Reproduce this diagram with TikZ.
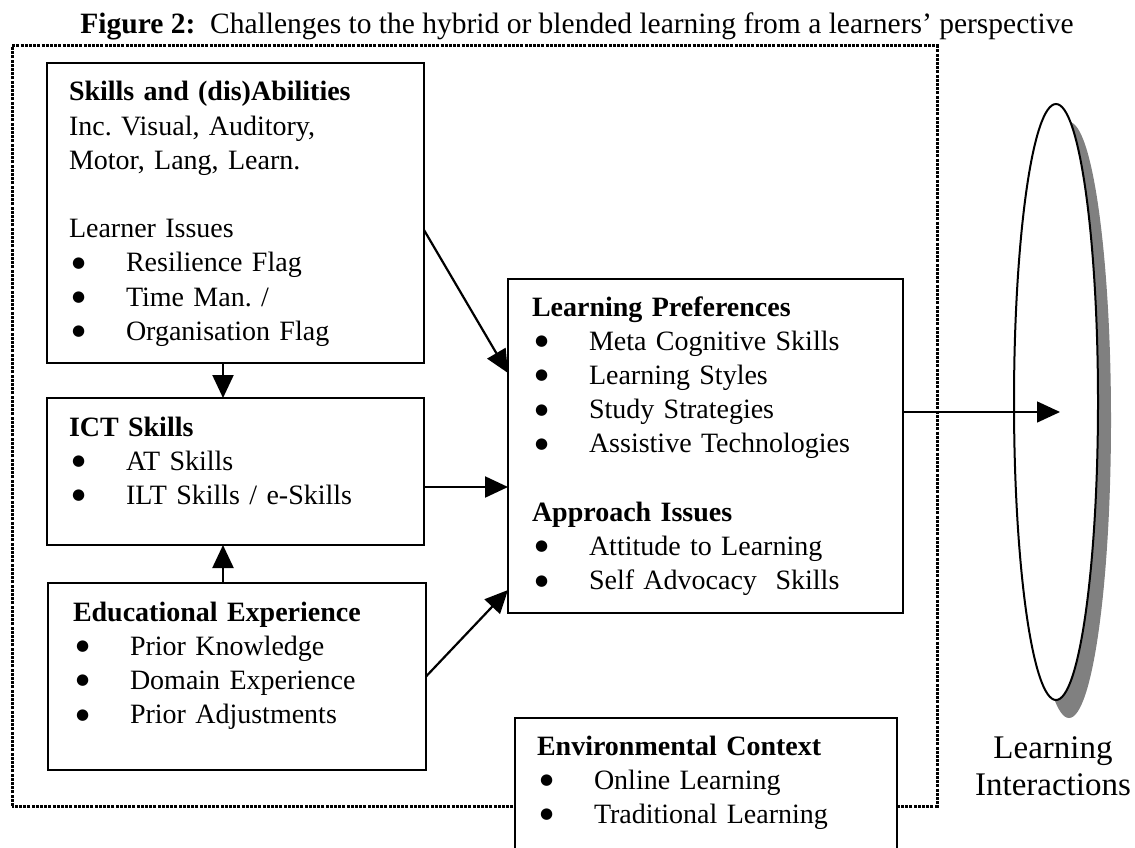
\documentclass[tikz,border=0pt]{standalone}
\usepackage{fontspec}
\setmainfont{Liberation Serif}
\newfontfamily\chalsym{DejaVu Sans}
\usetikzlibrary{arrows.meta,shapes.geometric}
\definecolor{chalInk}{HTML}{000000}
\definecolor{chalShadow}{HTML}{808080}
\frenchspacing
\newcommand{\chalitem}[1]{\makebox[57pt][l]{\hspace{3pt}\raisebox{4.5pt}{\chalsym\fontsize{15}{20}\selectfont ●}}#1}
\tikzset{
  chal diagram/.style={
    x=1pt, y=-1pt, draw=chalInk, line width=2pt,
    >={Triangle[length=23pt,width=21pt]},
    every node/.style={font=\fontsize{28}{34.2}\selectfont,
      text=chalInk, inner sep=0pt, outer sep=0pt}
  },
  chal box/.style={draw=chalInk, line width=1.8pt, fill=white,
    anchor=north west, align=left, inner ysep=0pt, text height=38pt},
  chal frame/.style={line width=3pt, dash pattern=on 3pt off 1.2pt},
  chal link/.style={->, line width=2.2pt},
  chal ellipse/.style={ellipse, minimum width=84pt, minimum height=596pt}
}

\begin{document}
\begin{tikzpicture}[chal diagram]
    \useasboundingbox (0,0) rectangle (1135,848);
    \node[anchor=base,font=\fontsize{29.5}{34}\selectfont] (title) at (577,34)
      {\textbf{Figure 2:}\ \ Challenges to the hybrid or blended learning from a learners' perspective};
    \draw[chal frame] (12,806) -- (12,46) -- (937,46) -- (937,806) -- cycle;
    % boxes
    \node[chal box, inner xsep=22pt, text width=333pt, text depth=262pt] (skills) at (47,63)
      {\textbf{Skills and (dis)Abilities}\\ Inc. Visual, Auditory,\\ Motor, Lang, Learn.\\ \mbox{}\\
       Learner Issues\\ \chalitem{Resilience Flag}\\ \chalitem{Time Man. /}\\ \chalitem{Organisation Flag}};
    \node[chal box, inner xsep=22pt, text width=333pt, text depth=109pt] (ict) at (47,398)
      {\textbf{ICT Skills}\\ \chalitem{AT Skills}\\ \chalitem{ILT Skills / e-Skills}};
    \node[chal box, inner xsep=25pt, text width=328pt, text depth=149pt] (educ) at (48,583)
      {\textbf{Educational Experience}\\ \chalitem{Prior Knowledge}\\ \chalitem{Domain Experience}\\ \chalitem{Prior Adjustments}};
    \node[chal box, inner xsep=24pt, text width=347pt, text height=37pt, text depth=297pt] (prefs) at (508,279)
      {\textbf{Learning Preferences}\\ \chalitem{Meta Cognitive Skills}\\ \chalitem{Learning Styles}\\
       \chalitem{Study Strategies}\\ \chalitem{Assistive Technologies}\\ \mbox{}\\
       \textbf{Approach Issues}\\ \chalitem{Attitude to Learning}\\ \chalitem{Self Advocacy\ \ Skills}};
    \node[chal box, inner xsep=22pt, text width=338pt, text height=37pt, text depth=105pt] (env) at (515,718)
      {\textbf{Environmental Context}\\ \chalitem{Online Learning}\\ \chalitem{Traditional Learning}};
    % learning interactions
    \fill[chalShadow] (1069,420) ellipse [x radius=42pt, y radius=298pt];
    \node[chal ellipse, draw=chalInk, fill=white, line width=2pt] (inter) at (1056,402) {};
    \node[font=\fontsize{33}{37}\selectfont, align=center] (interlabel) at (1053,766) {Learning\\Interactions};
    \coordinate (hit) at (1060,412);
    % links
    \draw[chal link] ([xshift=-12.5pt]skills.south) -- ([xshift=-12.5pt]ict.north);
    \draw[chal link] ([xshift=-14pt]educ.north) -- ([xshift=-12.5pt]ict.south);
    \draw[chal link] ([yshift=-17pt]skills.east) -- ([yshift=73pt]prefs.west);
    \draw[chal link] ([yshift=-15.5pt]ict.east) -- ([yshift=-41pt]prefs.west);
    \draw[chal link] (educ.east) -- ([yshift=-144pt]prefs.west);
    \draw[chal link, line width=1.5pt] ([yshift=34pt]prefs.east) -- (hit);
\end{tikzpicture}
\end{document}
